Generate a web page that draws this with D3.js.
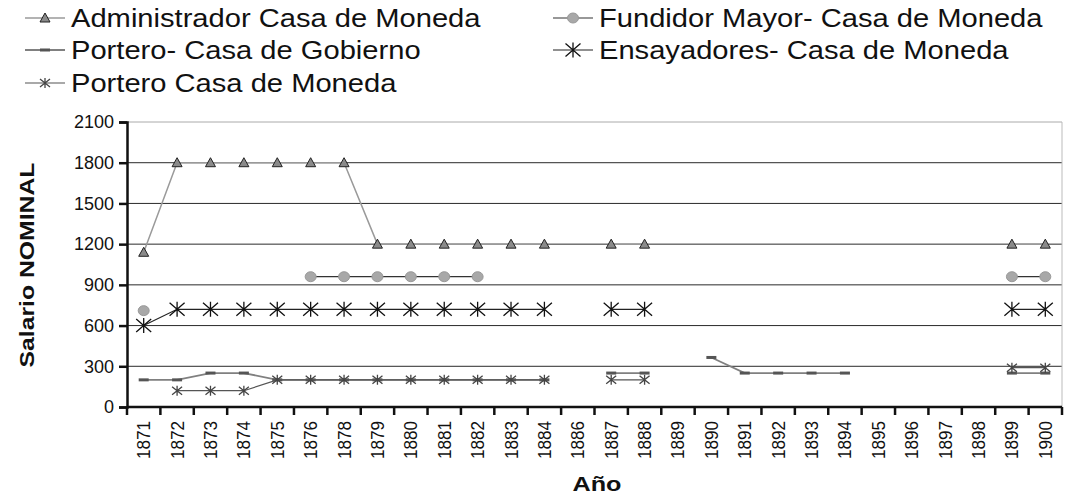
<!DOCTYPE html>
<html>
<head>
<meta charset="utf-8">
<script src="https://cdn.jsdelivr.net/npm/d3@7"></script>
<style>
  body { margin: 0; background: #fff; }
  svg { display: block; font-family: "Liberation Sans", Arial, sans-serif; }
</style>
</head>
<body>
<svg width="1074" height="495"></svg>
<script>
let years = ['1871','1872','1873','1874','1875','1876','1878','1879','1880','1881','1882','1883','1884','1886',
             '1887','1888','1889','1890','1891','1892','1893','1894','1895','1896','1897','1898','1899','1900']

let administrador = [1140,1800,1800,1800,1800,1800,1800,1200,1200,1200,1200,1200,1200,null,1200,1200,
                     null,null,null,null,null,null,null,null,null,null,1200,1200]
let fundidor = [710,null,null,null,null,960,960,960,960,960,960,null,null,null,null,null,
                null,null,null,null,null,null,null,null,null,null,960,960]
let porteroGobierno = [200,200,250,250,200,200,200,200,200,200,200,200,200,null,250,250,
                       null,365,250,250,250,250,null,null,null,null,250,250]
let ensayadores = [600,720,720,720,720,720,720,720,720,720,720,720,720,null,720,720,
                   null,null,null,null,null,null,null,null,null,null,720,720]
let porteroMoneda = [null,120,120,120,200,200,200,200,200,200,200,200,200,null,200,200,
                     null,null,null,null,null,null,null,null,null,null,290,290]

let yTicks = [0, 300, 600, 900, 1200, 1500, 1800, 2100]

let series = [
  { name: 'Administrador Casa de Moneda', values: administrador, line: '#9a9a9a', width: 1.5, marker: 'triangle' },
  { name: 'Fundidor Mayor- Casa de Moneda', values: fundidor, line: '#333', width: 1.2, marker: 'circle' },
  { name: 'Portero- Casa de Gobierno', values: porteroGobierno, line: '#808080', width: 1.8, marker: 'dash' },
  { name: 'Ensayadores- Casa de Moneda', values: ensayadores, line: '#222', width: 1.2, marker: 'bigstar' },
  { name: 'Portero Casa de Moneda', values: porteroMoneda, line: '#555', width: 1.2, marker: 'star' }
]

let plotLeft = 127, plotRight = 1062, plotTop = 122, plotBottom = 407

let svg = d3.select('svg')

let xScale = d3.scaleBand()
               .domain(years)
               .range([plotLeft, plotRight])

let yScale = d3.scaleLinear()
               .domain([0, 2100])
               .range([plotBottom, plotTop])

// gridlines
svg.append('g')
  .selectAll('line')
  .data(yTicks.filter(d => d > 0))
  .enter()
  .append('line')
    .attr('x1', plotLeft)
    .attr('x2', plotRight)
    .attr('y1', d => yScale(d))
    .attr('y2', d => yScale(d))
    .attr('stroke', d => d === 2100 ? '#aaa' : '#2a2a2a')
    .attr('stroke-width', 1)

svg.append('line')
    .attr('x1', plotRight).attr('x2', plotRight)
    .attr('y1', plotTop).attr('y2', plotBottom)
    .attr('stroke', '#bbb')

function drawMarker (g, type, x, y) {
  if (type === 'triangle') {
    g.append('path')
      .attr('d', `M${x - 5},${y + 4}L${x},${y - 5}L${x + 5},${y + 4}Z`)
      .attr('fill', '#8a8a8a')
      .attr('stroke', '#222')
      .attr('stroke-width', 1)
  } else if (type === 'circle') {
    g.append('ellipse')
      .attr('cx', x).attr('cy', y)
      .attr('rx', 5.5).attr('ry', 5)
      .attr('fill', '#a8a8a8')
      .attr('stroke', '#999')
  } else if (type === 'dash') {
    g.append('rect')
      .attr('x', x - 5).attr('y', y - 1.5)
      .attr('width', 10).attr('height', 3)
      .attr('fill', '#555')
  } else {
    let w = type === 'bigstar' ? 7.5 : 5
    let h = type === 'bigstar' ? 6.5 : 4
    g.append('path')
      .attr('d', `M${x - w},${y - h}L${x + w},${y + h}M${x - w},${y + h}L${x + w},${y - h}M${x},${y - h - 1}L${x},${y + h + 1}`)
      .attr('stroke', type === 'bigstar' ? '#111' : '#444')
      .attr('stroke-width', 1.3)
      .attr('fill', 'none')
  }
}

let line = d3.line()
             .defined(d => d.v != null)
             .x(d => xScale(d.year) + xScale.bandwidth() / 2)
             .y(d => yScale(d.v))

series.forEach(s => {
  let pts = years.map((year, i) => ({ year, v: s.values[i] }))
  let g = svg.append('g')
  g.append('path')
    .attr('d', line(pts))
    .attr('fill', 'none')
    .attr('stroke', s.line)
    .attr('stroke-width', s.width)
  pts.filter(d => d.v != null).forEach(d => {
    drawMarker(g, s.marker, xScale(d.year) + xScale.bandwidth() / 2, yScale(d.v))
  })
})

// axes
let yAxis = d3.axisLeft(yScale)
              .tickValues(yTicks)
              .tickFormat(d3.format('d'))
              .tickSize(8)
              .tickPadding(5)

let yG = svg.append('g')
  .attr('transform', `translate(${plotLeft}, 0)`)
  .call(yAxis)
yG.attr('font-family', '"Liberation Sans", Arial, sans-serif')
yG.select('.domain').attr('stroke', '#111').attr('stroke-width', 2.5)
yG.selectAll('.tick line').attr('stroke', '#111').attr('stroke-width', 2.5)
yG.selectAll('.tick text')
  .attr('font-size', 18)
  .attr('fill', '#111')

let xG = svg.append('g')
  .attr('transform', `translate(0, ${plotBottom})`)
xG.append('line')
  .attr('x1', plotLeft).attr('x2', plotRight)
  .attr('stroke', '#111').attr('stroke-width', 2.5)
xG.selectAll('.tk')
  .data(d3.range(years.length + 1))
  .enter()
  .append('line')
    .attr('x1', i => plotLeft + i * xScale.step())
    .attr('x2', i => plotLeft + i * xScale.step())
    .attr('y1', 0).attr('y2', 8)
    .attr('stroke', '#111').attr('stroke-width', 2.5)
xG.selectAll('.lbl')
  .data(years)
  .enter()
  .append('text')
    .attr('transform', d => `translate(${xScale(d) + xScale.bandwidth() / 2 + 6.5}, 14) rotate(-90)`)
    .attr('text-anchor', 'end')
    .attr('font-size', 18)
    .attr('textLength', 38)
    .attr('lengthAdjust', 'spacingAndGlyphs')
    .attr('fill', '#111')
    .text(d => d)

svg.append('text')
    .attr('transform', 'translate(34, 265) rotate(-90)')
    .attr('text-anchor', 'middle')
    .attr('font-size', 21)
    .attr('font-weight', 'bold')
    .attr('textLength', 205)
    .attr('lengthAdjust', 'spacingAndGlyphs')
    .attr('fill', '#111')
    .text('Salario NOMINAL')

svg.append('text')
    .attr('x', 597)
    .attr('y', 491)
    .attr('text-anchor', 'middle')
    .attr('font-size', 21)
    .attr('font-weight', 'bold')
    .attr('textLength', 49)
    .attr('lengthAdjust', 'spacingAndGlyphs')
    .attr('fill', '#111')
    .text('Año')

// legend
let legendPos = [[25, 18], [553, 18], [25, 50], [553, 50], [25, 83]]
series.forEach((s, i) => {
  let [lx, ly] = legendPos[i]
  let g = svg.append('g')
  g.append('line')
    .attr('x1', lx).attr('x2', lx + 40)
    .attr('y1', ly).attr('y2', ly)
    .attr('stroke', s.line)
    .attr('stroke-width', s.width)
  drawMarker(g, s.marker, lx + 20, ly)
  let t = g.append('text')
    .attr('x', lx + 46)
    .attr('y', ly + 9)
    .attr('font-size', 26)
    .attr('fill', '#111')
    .text(s.name)
  let w = t.node().getComputedTextLength()
  t.attr('textLength', w * 1.12).attr('lengthAdjust', 'spacingAndGlyphs')
})
</script>
</body>
</html>
